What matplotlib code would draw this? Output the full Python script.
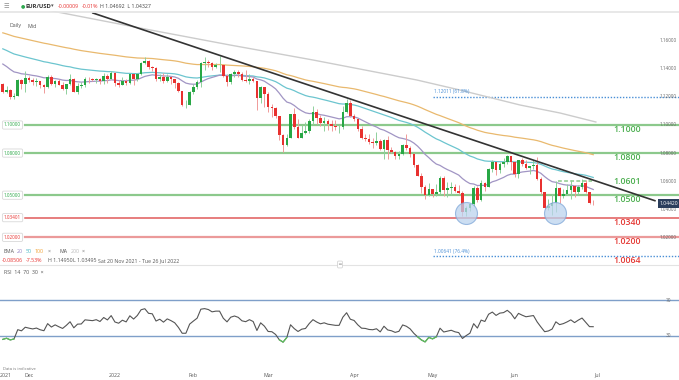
import numpy as np
import pandas as pd
import matplotlib
matplotlib.use("Agg")
import matplotlib.pyplot as plt
from matplotlib import transforms
from matplotlib.patches import Rectangle

# ---- data (EUR/USD daily, 22 Nov 2021 - 30 Jun 2022) ----
dates = pd.bdate_range("2021-11-22", "2022-06-30")
first_open = 1.1290

closes = [
    # Nov
    1.1237, 1.1250, 1.1199, 1.1209, 1.1318, 1.1292, 1.1338,
    # Dec
    1.1320, 1.1305, 1.1315, 1.1285, 1.1268, 1.1345, 1.1290, 1.1315, 1.1285, 1.1258, 1.1290, 1.1330,
    1.1238, 1.1280, 1.1282, 1.1330, 1.1325, 1.1320, 1.1330, 1.1310, 1.1350, 1.1325, 1.1370,
    # Jan
    1.1300, 1.1285, 1.1315, 1.1296, 1.1360, 1.1325, 1.1365, 1.1440, 1.1455, 1.1410, 1.1405, 1.1325,
    1.1345, 1.1310, 1.1345, 1.1325, 1.1300, 1.1240, 1.1145, 1.1145, 1.1235,
    # Feb
    1.1270, 1.1305, 1.1440, 1.1450, 1.1440, 1.1415, 1.1425, 1.1425, 1.1350, 1.1305, 1.1360, 1.1375,
    1.1360, 1.1320, 1.1310, 1.1330, 1.1310, 1.1190, 1.1270, 1.1220,
    # Mar
    1.1125, 1.1120, 1.1065, 1.0930, 1.0855, 1.0905, 1.1075, 1.0985, 1.0910, 1.0945, 1.0955, 1.1030,
    1.1095, 1.1050, 1.1015, 1.1030, 1.1005, 1.0995, 1.0985, 1.0985, 1.1090, 1.1160, 1.1065,
    # Apr
    1.1045, 1.0970, 1.0905, 1.0900, 1.0880, 1.0875, 1.0885, 1.0830, 1.0890, 1.0825, 1.0810, 1.0780,
    1.0790, 1.0855, 1.0835, 1.0795, 1.0715, 1.0640, 1.0560, 1.0500, 1.0545,
    # May
    1.0505, 1.0525, 1.0620, 1.0540, 1.0550, 1.0560, 1.0530, 1.0515, 1.0380, 1.0410, 1.0435, 1.0550,
    1.0465, 1.0585, 1.0560, 1.0690, 1.0735, 1.0680, 1.0725, 1.0735, 1.0780, 1.0735,
    # Jun
    1.0650, 1.0750, 1.0720, 1.0695, 1.0705, 1.0715, 1.0615, 1.0520, 1.0410, 1.0420, 1.0445, 1.0550,
    1.0495, 1.0510, 1.0535, 1.0565, 1.0520, 1.0555, 1.0585, 1.0520, 1.0443, 1.0442,
]
highs = [
    1.1300, 1.1275, 1.1253, 1.1225, 1.1325, 1.1326, 1.1383,
    1.1352, 1.1333, 1.1334, 1.1314, 1.1290, 1.1355, 1.1353, 1.1318, 1.1326, 1.1305, 1.1295, 1.1360,
    1.1335, 1.1300, 1.1305, 1.1340, 1.1345, 1.1335, 1.1335, 1.1335, 1.1370, 1.1360, 1.1385,
    1.1375, 1.1320, 1.1345, 1.1330, 1.1365, 1.1365, 1.1370, 1.1450, 1.1482, 1.1465, 1.1420, 1.1410,
    1.1360, 1.1370, 1.1365, 1.1350, 1.1330, 1.1305, 1.1245, 1.1175, 1.1240,
    1.1290, 1.1320, 1.1450, 1.1485, 1.1465, 1.1450, 1.1445, 1.1495, 1.1430, 1.1365, 1.1370, 1.1395,
    1.1395, 1.1375, 1.1395, 1.1365, 1.1345, 1.1315, 1.1275, 1.1250,
    1.1235, 1.1150, 1.1125, 1.1065, 1.0935, 1.0935, 1.1080, 1.1120, 1.1045, 1.1000, 1.1020, 1.1040,
    1.1135, 1.1115, 1.1070, 1.1055, 1.1040, 1.1035, 1.1035, 1.1000, 1.1135, 1.1185, 1.1180,
    1.1075, 1.1045, 1.0990, 1.0935, 1.0935, 1.0905, 1.0950, 1.0900, 1.0900, 1.0925, 1.0840, 1.0815,
    1.0815, 1.0865, 1.0935, 1.0850, 1.0800, 1.0720, 1.0655, 1.0570, 1.0590,
    1.0545, 1.0580, 1.0640, 1.0640, 1.0595, 1.0595, 1.0580, 1.0575, 1.0530, 1.0425, 1.0440, 1.0565,
    1.0565, 1.0605, 1.0595, 1.0695, 1.0750, 1.0735, 1.0735, 1.0765, 1.0785, 1.0775,
    1.0745, 1.0750, 1.0765, 1.0750, 1.0710, 1.0750, 1.0775, 1.0630, 1.0525, 1.0470, 1.0505, 1.0600,
    1.0555, 1.0545, 1.0580, 1.0605, 1.0570, 1.0570, 1.0615, 1.0605, 1.0525, 1.0469,
]
lows = [
    1.1227, 1.1226, 1.1186, 1.1187, 1.1204, 1.1258, 1.1235,
    1.1308, 1.1287, 1.1275, 1.1262, 1.1227, 1.1263, 1.1285, 1.1270, 1.1284, 1.1250, 1.1222, 1.1285,
    1.1235, 1.1222, 1.1260, 1.1270, 1.1300, 1.1310, 1.1300, 1.1290, 1.1290, 1.1300, 1.1325,
    1.1280, 1.1272, 1.1283, 1.1285, 1.1292, 1.1285, 1.1315, 1.1355, 1.1435, 1.1400, 1.1385, 1.1315,
    1.1310, 1.1300, 1.1305, 1.1290, 1.1265, 1.1235, 1.1135, 1.1121, 1.1140,
    1.1220, 1.1255, 1.1270, 1.1395, 1.1410, 1.1395, 1.1405, 1.1375, 1.1340, 1.1280, 1.1290, 1.1340,
    1.1340, 1.1310, 1.1305, 1.1290, 1.1305, 1.1106, 1.1160, 1.1125,
    1.1090, 1.1055, 1.1050, 1.0895, 1.0806, 1.0850, 1.0905, 1.0975, 1.0905, 1.0905, 1.0935, 1.0945,
    1.1005, 1.1005, 1.0995, 1.0960, 1.0965, 1.0960, 1.0965, 1.0945, 1.0975, 1.1085, 1.1060,
    1.1025, 1.0960, 1.0900, 1.0885, 1.0865, 1.0835, 1.0860, 1.0820, 1.0760, 1.0755, 1.0800, 1.0760,
    1.0755, 1.0785, 1.0825, 1.0770, 1.0700, 1.0635, 1.0515, 1.0470, 1.0495,
    1.0490, 1.0495, 1.0505, 1.0495, 1.0485, 1.0500, 1.0520, 1.0505, 1.0350, 1.0355, 1.0390, 1.0425,
    1.0455, 1.0460, 1.0530, 1.0560, 1.0665, 1.0645, 1.0660, 1.0700, 1.0720, 1.0680,
    1.0630, 1.0625, 1.0710, 1.0690, 1.0650, 1.0690, 1.0610, 1.0505, 1.0400, 1.0395, 1.0360, 1.0380,
    1.0445, 1.0480, 1.0500, 1.0470, 1.0490, 1.0510, 1.0545, 1.0515, 1.0435, 1.0433,
]

# moving-average values at the start of the window
ema_seed = {20: 1.1455, 50: 1.1555, 100: 1.1665}
# 200 MA at a few candles
ma200_idx = [0, 11.8, 36.7, 60.8, 83.0, 110.8, 122.3, 138.4, 149.1, 158.7]
ma200_val = [1.1885, 1.18191, 1.16909, 1.15698, 1.14630, 1.13205, 1.12493, 1.11425, 1.10855, 1.10214]

# levels
green_levels = [1.1000, 1.0800, 1.0500]
red_levels = [1.03401, 1.0200]
fib_levels = [1.12011, 1.00641]
fib_texts = ["1.12011 (61.8%)", "1.00641 (76.4%)"]
range_top = 1.0601
big_levels = [1.1000, 1.0800, 1.0601, 1.0500, 1.0340, 1.0200, 1.0064]
price_ticks = [1.16, 1.14, 1.12, 1.10, 1.08, 1.06, 1.04, 1.02]
trend_idx = [24.1, 174.5]
trend_val = [1.17977, 1.04608]
circle_idx = [123.9, 147.8]
circle_val = [1.0373, 1.0373]
last_price = 1.04420

# ---- derived ----
c = np.array(closes)
h = np.array(highs)
l = np.array(lows)
o = np.concatenate([[first_open], c[:-1]])
h = np.maximum(h, np.maximum(o, c))
l = np.minimum(l, np.minimum(o, c))
x = np.arange(len(c))


def ema(vals, n, seed):
    a = 2.0 / (n + 1)
    out = []
    e = seed
    for v in vals:
        e = a * v + (1 - a) * e
        out.append(e)
    return np.array(out)


# Wilder RSI 14, seeded so it starts where the chart does
diff = c - o
g, ls = 0.0016, 0.0041
rsi = []
for d in diff:
    g = (g * 13 + max(d, 0)) / 14
    ls = (ls * 13 + max(-d, 0)) / 14
    rsi.append(100 - 100 / (1 + g / ls))
rsi = np.array(rsi)

GREEN = "#28a745"
RED = "#e8312f"
LGREEN = "#8cc98c"
FIBBLUE = "#4a8fd6"
W, H = 679, 380

fig = plt.figure(figsize=(W / 100, H / 100), dpi=100)
ax = fig.add_axes([0, 1 - 263 / H, 1, 263 / H])
rx = fig.add_axes([0, 1 - 371 / H, 1, 106 / H])
for a in (ax, rx):
    a.set_xlim(-0.75, 180.95)
    for s in a.spines.values():
        s.set_visible(False)
    a.set_yticks([])
ax.set_xticks([])
ax.set_ylim(1.00171, 1.18903)
rx.set_ylim(-9.44, 110.0)

blend = transforms.blended_transform_factory(ax.transAxes, ax.transData)

# horizontal levels
for lv in green_levels:
    ax.axhline(lv, xmin=25 / W, color=LGREEN, lw=1.6, zorder=1)
ax.axhline(red_levels[0], xmin=25 / W, color="#e05a5a", lw=1.1, zorder=1)
ax.axhline(red_levels[1], xmin=25 / W, color="#eb9a9a", lw=1.6, zorder=1)
for lv, t in zip(fib_levels, fib_texts):
    ax.axhline(lv, xmin=433 / W, color=FIBBLUE, lw=1.0, ls=(0, (1, 1.2)), zorder=1)
    ax.annotate(t, xy=(433 / W, lv), xycoords=blend, xytext=(1, 2), textcoords="offset points",
                fontsize=3.4, color=FIBBLUE, va="bottom", ha="left", family="Open Sans")
ax.hlines(range_top, 148.6, 157.7, colors=LGREEN, linestyles=(0, (2.5, 1.5)), lw=1.1, zorder=1)

# moving averages
ax.plot(ma200_idx, ma200_val, color="#cccccc", lw=1.0, zorder=2)
ax.plot(x, ema(c, 100, ema_seed[100]), color="#e9b96e", lw=0.9, zorder=2)
ax.plot(x, ema(c, 50, ema_seed[50]), color="#6cc5cf", lw=0.9, zorder=2)
ax.plot(x, ema(c, 20, ema_seed[20]), color="#a195c4", lw=0.9, zorder=2)

# candles
up = c >= o
cols = np.where(up, GREEN, RED)
wcols = np.where(up, "#8fd09c", "#f09a99")
ax.vlines(x, l, h, colors=wcols, lw=0.7, zorder=3)
ax.bar(x, np.maximum(np.abs(c - o), 0.00006), bottom=np.minimum(o, c), width=0.7,
       color=cols, zorder=4, linewidth=0)

# trend line and circles
ax.plot(trend_idx, trend_val, color="#333333", lw=1.2, zorder=5)
ax.scatter(circle_idx, circle_val, s=250, facecolor="#bcd3ee", edgecolor="#7fa7d8",
           lw=0.8, alpha=0.75, zorder=6)

# right price scale
for p in price_ticks:
    ax.text(0.996, p, f"{p:.5f}", transform=blend, ha="right", va="center",
            fontsize=3.3, color="#666666", family="Open Sans", zorder=7)
ax.text(0.9985, last_price, f"{last_price:.5f}", transform=blend, ha="right", va="center",
        fontsize=3.6, color="white", family="Open Sans", zorder=9,
        bbox=dict(boxstyle="square,pad=0.35", fc="#2b3e5c", ec="none"))

# left level boxes
for lv, col in [(1.1, GREEN), (1.08, GREEN), (1.05, GREEN), (1.03401, RED), (1.02, RED)]:
    ax.text(4 / W, lv, f"{lv:.5f}", transform=blend, ha="left", va="center", fontsize=3.3,
            color=col, family="Open Sans", zorder=8,
            bbox=dict(boxstyle="round,pad=0.35,rounding_size=0.3", fc="white", ec="#d8d8d8", lw=0.6))

# big level labels
for lv in big_levels:
    col = "#4caf50" if lv >= 1.05 else "#e53935"
    dy = -0.6 if lv == range_top else -3.3
    ax.annotate(f"{lv:.4f}", xy=(613 / W, lv), xycoords=blend, xytext=(0, dy),
                textcoords="offset points", fontsize=6.3, fontweight="semibold",
                color=col, va="center", ha="left", family="Open Sans", zorder=8)

# RSI panel
rx.axhline(70, color="#7f9fc9", lw=1.0)
rx.axhline(30, color="#7f9fc9", lw=1.0)
rx.plot(x, rsi, color="#555555", lw=0.8)
rx.plot(x, np.where(rsi < 30, rsi, np.nan), color="#5cbf5c", lw=0.9)
rblend = transforms.blended_transform_factory(rx.transAxes, rx.transData)
for v in (70, 30):
    rx.text(0.985, v, str(v), transform=rblend, ha="center", va="center", fontsize=3.4,
            color="#666666", family="Open Sans")

tick_pos, tick_lab = [0.9], ["2021"]
for i in range(1, len(dates)):
    if dates[i].month != dates[i - 1].month:
        tick_pos.append(i)
        tick_lab.append(str(dates[i].year) if dates[i].month == 1 else dates[i].strftime("%b"))
tick_pos.append(len(dates))
tick_lab.append("Jul")
rx.set_xticks(tick_pos)
rx.set_xticklabels(tick_lab, fontsize=3.8, color="#555555", family="Open Sans")
rx.tick_params(axis="x", length=0, pad=1.2)


def ft(px, py, s, **kw):
    kw.setdefault("fontsize", 3.8)
    kw.setdefault("family", "Open Sans")
    kw.setdefault("va", "center")
    fig.text(px / W, 1 - py / H, s, **kw)


# header
fig.patches.append(Rectangle((0, 1 - 11 / H), 1, 11 / H, transform=fig.transFigure,
                             fc="white", ec="none", zorder=5))
fig.lines.append(plt.Line2D([0, 1], [1 - 11.5 / H] * 2, transform=fig.transFigure,
                            color="#e6e6e6", lw=1.3, zorder=6))
ft(3, 6, "\u2630", fontsize=4.5, color="#888888", family="DejaVu Sans", zorder=7)
ft(21, 6, "\u25cf", fontsize=3.6, color="#2fa84f", family="DejaVu Sans", zorder=7)
ft(25, 6, "EUR/USD", fontsize=4.2, fontweight="bold", color="#333333", zorder=7)
ft(51, 6, "\u25be", fontsize=3.8, color="#555555", family="DejaVu Sans", zorder=7)
ft(58, 6, "-0.00009", color=RED, zorder=7)
ft(82, 6, "-0.01%", color=RED, zorder=7)
ft(100, 6, "H 1.04692  L 1.04327", color="#444444", zorder=7)
ft(10, 26, "Daily", color="#555555")
ft(28, 26, "Mid", color="#555555")

# legend rows
ft(4, 251.5, "EMA", color="#555555")
ft(17, 251.5, "20", color="#8e7cc3")
ft(26, 251.5, "50", color="#45b5c4")
ft(35, 251.5, "100", color="#f0a030")
ft(48, 251.5, "\u00d7", color="#777777")
ft(59, 251.5, "MA", color="#555555")
ft(71, 251.5, "200", color="#bbbbbb")
ft(82, 251.5, "\u00d7", color="#777777")
ft(2, 260.5, "-0.08506", color=RED)
ft(26, 260.5, "-7.53%", color=RED)
ft(48, 260.5, "H 1.14950", color="#555555")
ft(73, 260.5, "L 1.03495", color="#555555")
ft(98, 260.5, "Sat 20 Nov 2021 - Tue 26 Jul 2022", color="#555555")

# panel divider
fig.lines.append(plt.Line2D([0, 1], [1 - 264.5 / H] * 2, transform=fig.transFigure,
                            color="#e3e3e3", lw=0.8))
ft(340, 264.5, "\u2550", fontsize=3.4, color="#999999", ha="center", family="DejaVu Sans",
   bbox=dict(boxstyle="round,pad=0.2", fc="white", ec="#cccccc", lw=0.5))
ft(4, 272, "RSI  14  70  30  \u00d7", color="#555555")
ft(3, 368.5, "Data is indicative", fontsize=3.0, color="#777777")

fig.savefig("out.png", dpi=100, facecolor="white")
